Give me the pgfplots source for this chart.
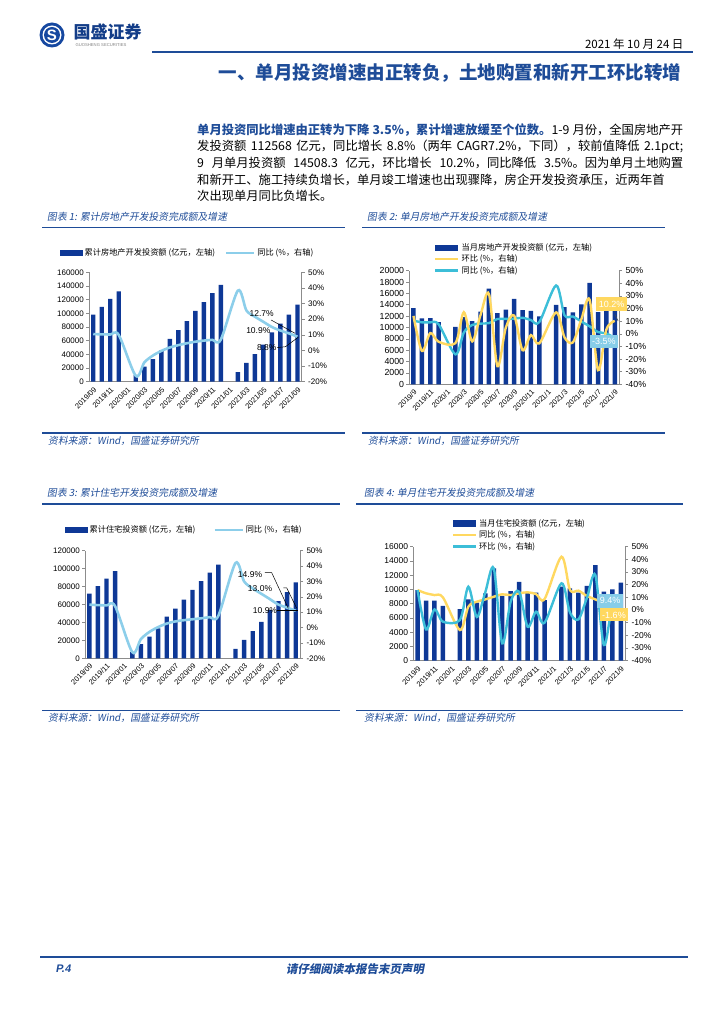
\documentclass[border=0pt]{standalone}
\usepackage{fontspec}
\usepackage{pgfplots}
\pgfplotsset{compat=1.18}
\setmainfont{Noto Sans CJK SC}
\newfontfamily\cjkit{Noto Sans CJK SC}[FakeSlant=0.18]
\newfontfamily\lsans{Liberation Sans}
\newfontfamily\lsansit{Liberation Sans}[FakeSlant=0.18]
\XeTeXlinebreaklocale "zh"
\XeTeXlinebreakskip=0pt plus 1pt
\definecolor{hdrblue}{RGB}{30,76,152}
\definecolor{barblue}{RGB}{14,56,150}
\definecolor{lblue}{RGB}{140,206,234}
\definecolor{cyanl}{RGB}{60,190,216}
\definecolor{yell}{RGB}{255,216,96}
\definecolor{boxblue}{RGB}{135,205,232}
\definecolor{axgray}{RGB}{140,140,140}
\definecolor{logoblue}{RGB}{22,72,160}
\pgfplotsset{
  common/.style={scale only axis, clip=false, xmin=-0.5, xmax=24.5,
    axis line style={axgray, line width=0.6pt}, tick style={axgray, line width=0.6pt},
    tick align=outside, major tick length=3pt,
    ticklabel style={font=\lsans\fontsize{8}{9}\selectfont, text=black},
    scaled y ticks=false, /pgf/number format/assume math mode=true},
  leftax/.style={common, axis x line*=bottom, axis y line*=left,
    xtick={0,2,...,24}, xtick style={draw=none},
    xticklabel style={rotate=45, anchor=north east, inner sep=1pt, font=\lsans\fontsize{7.4}{8}\selectfont},
    yticklabel style={inner sep=2pt}},
  rightax/.style={common, axis x line=none, axis y line*=right, xtick=\empty},
  lg/.style={legend cell align=left, legend style={draw=none, fill=none, inner sep=0pt, font=\fontsize{8.2}{9}\selectfont,
     /tikz/every even column/.append style={column sep=8pt}}},
  barsw/.style={legend image code/.code={\fill[barblue] (0pt,-2.6pt) rectangle (22pt,2.6pt);}},
  linesw/.style={legend image code/.code={\draw[#1, line width=2.4pt] (0pt,0pt) -- (28pt,0pt);}},
  monthA/.style={xticklabels={2019/09,2019/11,2020/01,2020/03,2020/05,2020/07,2020/09,2020/11,2021/01,2021/03,2021/05,2021/07,2021/09}},
  monthB/.style={xticklabels={2019/9,2019/11,2020/1,2020/3,2020/5,2020/7,2020/9,2020/11,2021/1,2021/3,2021/5,2021/7,2021/9}},
}
\begin{document}
\begin{tikzpicture}
\path[use as bounding box] (0,0) rectangle (724pt,-1024pt);
\begin{scope}[x=1pt,y=-1pt]
% header
\fill[logoblue] (52,35) circle (12.5);
\fill[white] (52,35) circle (9.5);
\fill[logoblue] (52,35) circle (8);
\node[text=white, font=\lsans\bfseries\fontsize{15}{15}\selectfont] at (52,35.5) {S};
\node[anchor=west, text=logoblue!85!black, font=\bfseries\fontsize{17}{17}\selectfont] at (70,32) {国盛证券};
\node[anchor=west, text=gray, font=\lsans\fontsize{4.2}{5}\selectfont] at (72,45.5) {GUOSHENG SECURITIES};
\node[anchor=east, font=\fontsize{11.5}{12}\selectfont] at (687,44) {2021 年 10 月 24 日};
\draw[hdrblue, line width=2pt] (152,52.5) -- (693,52.5);
\node[anchor=east, text=hdrblue, font=\bfseries\fontsize{18.5}{19}\selectfont] at (685,73) {一、单月投资增速由正转负，土地购置和新开工环比转增};
% paragraph
\begin{scope}[every node/.style={anchor=west, inner sep=0pt, font=\fontsize{12.3}{13}\selectfont}]
\node at (197,130) {\makebox[486pt][s]{{\bfseries\color{hdrblue}单月投资同比增速由正转为下降 3.5\%，累计增速放缓至个位数。}1-9 月份，全国房地产开}};
\node at (197,146.5) {\makebox[486pt][s]{发投资额 112568 亿元，同比增长 8.8\%（两年 CAGR7.2\%，下同），较前值降低 2.1pct;}};
\node at (197,163) {\makebox[486pt][s]{9 月单月投资额 14508.3 亿元，环比增长 10.2\%，同比降低 3.5\%。因为单月土地购置}};
\node at (197,179.5) {\makebox[486pt][s]{和新开工、施工持续负增长，单月竣工增速也出现骤降，房企开发投资承压，近两年首}};
\node at (197,196) {次出现单月同比负增长。};
\end{scope}
% captions and rules
\begin{scope}[every node/.style={anchor=west, inner sep=0pt, text=hdrblue, font=\cjkit\fontsize{9.8}{10}\selectfont}]
\node at (47,217) {图表 1: 累计房地产开发投资完成额及增速};
\node at (367,217) {图表 2: 单月房地产开发投资完成额及增速};
\node at (47,493) {图表 3: 累计住宅开发投资完成额及增速};
\node at (364,493) {图表 4: 单月住宅开发投资完成额及增速};
\node at (48,441) {资料来源：Wind，国盛证券研究所};
\node at (368,441) {资料来源：Wind，国盛证券研究所};
\node at (48,718) {资料来源：Wind，国盛证券研究所};
\node at (364,718) {资料来源：Wind，国盛证券研究所};
\end{scope}
\begin{scope}[hdrblue, line width=1.6pt]
\draw (42,227.5) -- (345,227.5); \draw (362,227.5) -- (665,227.5);
\draw (42,433) -- (345,433); \draw (362,433) -- (665,433);
\draw (42,504) -- (340,504); \draw (356,504) -- (683,504);
\draw (42,710.5) -- (340,710.5); \draw (356,710.5) -- (683,710.5);
\end{scope}
% footer
\draw[hdrblue, line width=2pt] (40,957) -- (688,957);
\node[anchor=west, text=hdrblue, font=\lsansit\bfseries\fontsize{11}{12}\selectfont] at (52,969) {P.4};
\node[text=hdrblue, font=\cjkit\bfseries\fontsize{11.5}{12}\selectfont] at (355,969) {请仔细阅读本报告末页声明};
\end{scope}

% ---------------- Chart 1 ----------------
\begin{axis}[leftax, monthA, lg, at={(89pt,-381.7pt)}, anchor=south west, width=212.7pt, height=109.4pt,
  ymin=0, ymax=160000, ytick={0,20000,40000,60000,80000,100000,120000,140000,160000},
  yticklabels={0,20000,40000,60000,80000,100000,120000,140000,160000},
  legend style={at={(-0.136,1.176)}, anchor=west}, legend columns=-1]
\addplot[ybar, bar width=4.4pt, fill=barblue, draw=none, forget plot] coordinates {
(0,98008)(1,109603)(2,121265)(3,132194)(5,10115)(6,21963)(7,33103)(8,45920)(9,62780)(10,75325)(11,88454)(12,103484)(13,116556)(14,129492)(15,141443)(17,13986)(18,27576)(19,40240)(20,54318)(21,72179)(22,84895)(23,98061)(24,112568)};
\addlegendimage{barsw}\addlegendentry{累计房地产开发投资额 (亿元，左轴)}
\addlegendimage{linesw=lblue}\addlegendentry{同比 (\%，右轴)}
\end{axis}
\begin{axis}[rightax, at={(89pt,-381.7pt)}, anchor=south west, width=212.7pt, height=109.4pt,
  ymin=-20, ymax=50, ytick={-20,-10,0,10,20,30,40,50},
  yticklabels={-20\%,-10\%,0\%,10\%,20\%,30\%,40\%,50\%}]
\addplot[lblue, line width=2.6pt, smooth, tension=0.5] coordinates {
(0,10.5)(1,10.3)(2,10.2)(3,9.9)(5,-16.3)(6,-7.7)(7,-3.3)(8,-0.3)(9,1.9)(10,3.4)(11,4.6)(12,5.6)(13,6.3)(14,6.8)(15,7.0)(17,38.3)(18,25.6)(19,21.6)(20,18.3)(21,15.0)(22,12.7)(23,10.9)(24,8.8)};
\draw[black, line width=0.5pt] (axis cs:20.9,19.5) -- (axis cs:23.7,11.0);
\draw[black, line width=0.5pt] (axis cs:21.6,1.8) -- (axis cs:22.6,2.4) -- (axis cs:24.1,8.5);
\node[font=\lsans\fontsize{8.5}{9}\selectfont, inner sep=0pt] at (axis cs:19.8,23.5) {12.7\%};
\node[font=\lsans\fontsize{8.5}{9}\selectfont, inner sep=0pt] at (axis cs:19.4,12.4) {10.9\%};
\node[font=\lsans\fontsize{8.5}{9}\selectfont, inner sep=0pt] at (axis cs:20.4,1.8) {8.8\%};
\end{axis}

% ---------------- Chart 2 ----------------
\begin{axis}[leftax, monthB, lg, at={(409.3pt,-384.3pt)}, anchor=south west, width=209.7pt, height=113.6pt,
  ticklabel style={font=\lsans\fontsize{8.8}{9}\selectfont},
  ymin=0, ymax=20000, ytick={0,2000,4000,6000,8000,10000,12000,14000,16000,18000,20000},
  yticklabels={0,2000,4000,6000,8000,10000,12000,14000,16000,18000,20000},
  legend style={at={(0.118,1.262)}, anchor=north west, row sep=-0.8pt,
    /tikz/every even column/.append style={column sep=0pt}}, legend columns=1]
\addplot[ybar, bar width=4.5pt, fill=barblue, draw=none, forget plot] coordinates {
(0,13419)(1,11595)(2,11662)(3,10929)(5,10115)(6,11848)(7,11140)(8,12817)(9,16860)(10,12545)(11,13129)(12,15030)(13,13072)(14,12936)(15,11951)(17,13986)(18,13590)(19,12664)(20,14078)(21,17861)(22,12716)(23,13166)(24,14508.3)};
\addlegendimage{barsw}\addlegendentry{当月房地产开发投资额 (亿元，左轴)}
\addlegendimage{legend image code/.code={\draw[yell, line width=2.4pt] (0pt,0pt) -- (23pt,0pt);}}\addlegendentry{环比 (\%，右轴)}
\addlegendimage{legend image code/.code={\draw[cyanl, line width=2.4pt] (0pt,0pt) -- (23pt,0pt);}}\addlegendentry{同比 (\%，右轴)}
\end{axis}
\begin{axis}[rightax, at={(409.3pt,-384.3pt)}, anchor=south west, width=209.7pt, height=113.6pt,
  ticklabel style={font=\lsans\fontsize{8.8}{9}\selectfont},
  ymin=-40, ymax=50, ytick={-40,-30,-20,-10,0,10,20,30,40,50},
  yticklabels={-40\%,-30\%,-20\%,-10\%,0\%,10\%,20\%,30\%,40\%,50\%}]
\addplot[cyanl, line width=2.4pt, smooth, tension=0.5] coordinates {
(0,10.5)(1,9.1)(2,9.1)(3,7.5)(5,-16.3)(6,1.0)(7,7.0)(8,8.1)(9,8.5)(10,11.7)(11,11.8)(12,12.0)(13,12.7)(14,10.9)(15,9.3)(17,38.3)(18,14.7)(19,13.7)(20,9.8)(21,5.9)(22,1.4)(23,0.3)(24,-3.5)};
\addplot[yell, line width=2.4pt, smooth, tension=0.5] coordinates {
(0,14.2)(1,-13.6)(2,0.6)(3,-6.3)(5,-7.4)(6,17.1)(7,-6.0)(8,15.1)(9,31.5)(10,-25.6)(11,4.7)(12,14.5)(13,-13.0)(14,-1.0)(15,-7.6)(17,17.0)(18,-2.8)(19,-6.8)(20,11.2)(21,26.9)(22,-28.8)(23,3.5)(24,10.2)};
\draw[black!70, line width=0.6pt] (axis cs:24.0,15.4) -- (axis cs:24.4,10.1);
\node[fill=yell, text=white, font=\lsans\fontsize{9}{10}\selectfont, inner sep=2.5pt, minimum height=14pt] at (axis cs:23.63,23.5) {10.2\%};
\node[fill=boxblue, text=white, font=\lsans\fontsize{9}{10}\selectfont, inner sep=2.5pt, minimum height=13pt] at (axis cs:22.7,-6.1) {-3.5\%};
\end{axis}

% ---------------- Chart 3 ----------------
\begin{axis}[leftax, monthA, lg, at={(85pt,-658.3pt)}, anchor=south west, width=215pt, height=107.6pt,
  ymin=0, ymax=120000, ytick={0,20000,40000,60000,80000,100000,120000},
  yticklabels={0,20000,40000,60000,80000,100000,120000},
  legend style={at={(-0.093,1.192)}, anchor=west, /tikz/every even column/.append style={column sep=16pt}}, legend columns=-1]
\addplot[ybar, bar width=4.4pt, fill=barblue, draw=none, forget plot] coordinates {
(0,72100)(1,80500)(2,89000)(3,97100)(5,7300)(6,15800)(7,24300)(8,33400)(9,46350)(10,55400)(11,65450)(12,76300)(13,86000)(14,95600)(15,104400)(17,10400)(18,20600)(19,30200)(20,40600)(21,53800)(22,63800)(23,73700)(24,84700)};
\addlegendimage{barsw}\addlegendentry{累计住宅投资额 (亿元，左轴)}
\addlegendimage{linesw=lblue}\addlegendentry{同比 (\%，右轴)}
\end{axis}
\begin{axis}[rightax, at={(85pt,-658.3pt)}, anchor=south west, width=215pt, height=107.6pt,
  ymin=-20, ymax=50, ytick={-20,-10,0,10,20,30,40,50},
  yticklabels={-20\%,-10\%,0\%,10\%,20\%,30\%,40\%,50\%}]
\addplot[lblue, line width=2.6pt, smooth, tension=0.5] coordinates {
(0,14.9)(1,14.6)(2,14.4)(3,13.9)(5,-16.0)(6,-7.5)(7,-2.8)(8,0.3)(9,2.6)(10,4.0)(11,4.8)(12,5.4)(13,6.0)(14,6.8)(15,7.6)(17,42.0)(18,30.0)(19,25.5)(20,22.0)(21,18.5)(22,14.9)(23,13.0)(24,10.9)};
\draw[black, line width=0.5pt] (axis cs:20.43,35.7) -- (axis cs:21.21,35.7) -- (axis cs:23.14,12.5);
\draw[black, line width=0.5pt] (axis cs:22.56,25.9) -- (axis cs:22.95,25.9) -- (axis cs:24.12,12.5);
\draw[black, line width=0.5pt] (axis cs:21.79,11.4) -- (axis cs:24.3,11.4);
\node[font=\lsans\fontsize{8.5}{9}\selectfont, inner sep=0pt] at (axis cs:18.69,34.8) {14.9\%};
\node[font=\lsans\fontsize{8.5}{9}\selectfont, inner sep=0pt] at (axis cs:19.85,25.5) {13.0\%};
\node[font=\lsans\fontsize{8.5}{9}\selectfont, inner sep=0pt] at (axis cs:20.43,11.0) {10.9\%};
\end{axis}

% ---------------- Chart 4 ----------------
\begin{axis}[leftax, monthB, lg, at={(413.3pt,-660.7pt)}, anchor=south west, width=211.7pt, height=114pt,
  ticklabel style={font=\lsans\fontsize{8.5}{9}\selectfont},
  ymin=0, ymax=16000, ytick={0,2000,4000,6000,8000,10000,12000,14000,16000},
  yticklabels={0,2000,4000,6000,8000,10000,12000,14000,16000},
  legend style={at={(0.181,1.262)}, anchor=north west, row sep=-0.8pt,
    /tikz/every even column/.append style={column sep=0pt}}, legend columns=1]
\addplot[ybar, bar width=4.5pt, fill=barblue, draw=none, forget plot] coordinates {
(0,9900)(1,8450)(2,8450)(3,7700)(5,7250)(6,8600)(7,8150)(8,9450)(9,12950)(10,9100)(11,9750)(12,11050)(13,9600)(14,9550)(15,8500)(17,10400)(18,10150)(19,9550)(20,10500)(21,13400)(22,9700)(23,10000)(24,10950)};
\addlegendimage{barsw}\addlegendentry{当月住宅投资额 (亿元，左轴)}
\addlegendimage{legend image code/.code={\draw[yell, line width=2.4pt] (0pt,0pt) -- (23pt,0pt);}}\addlegendentry{同比 (\%，右轴)}
\addlegendimage{legend image code/.code={\draw[cyanl, line width=2.4pt] (0pt,0pt) -- (23pt,0pt);}}\addlegendentry{环比 (\%，右轴)}
\end{axis}
\begin{axis}[rightax, at={(413.3pt,-660.7pt)}, anchor=south west, width=211.7pt, height=114pt,
  ticklabel style={font=\lsans\fontsize{8.5}{9}\selectfont},
  ymin=-40, ymax=50, ytick={-40,-30,-20,-10,0,10,20,30,40,50},
  yticklabels={-40\%,-30\%,-20\%,-10\%,0\%,10\%,20\%,30\%,40\%,50\%}]
\addplot[yell, line width=2.4pt, smooth, tension=0.5] coordinates {
(0,15.8)(1,13.2)(2,11.8)(3,10.0)(5,-15.8)(6,2.6)(7,6.6)(8,8.4)(9,10.5)(10,12.4)(11,11.8)(12,13.2)(13,14.0)(14,12.6)(15,8.7)(17,42.1)(18,15.8)(19,15.3)(20,11.1)(21,8.4)(22,5.5)(23,3.0)(24,-1.6)};
\addplot[cyanl, line width=2.4pt, smooth, tension=0.5] coordinates {
(0,15.8)(1,-15.3)(2,0.5)(3,-9.2)(5,-7.9)(6,18.4)(7,-5.5)(8,14.0)(9,32.9)(10,-26.3)(11,6.6)(12,14.5)(13,-13.2)(14,-1.3)(15,-10.0)(17,21.1)(18,-2.0)(19,-7.4)(20,9.6)(21,27.6)(22,-27.6)(23,3.1)(24,9.4)};
\node[fill=boxblue, text=white, font=\lsans\fontsize{9}{10}\selectfont, inner sep=2.5pt, minimum height=14pt] at (axis cs:22.73,7.5) {9.4\%};
\node[fill=yell, text=white, font=\lsans\fontsize{9}{10}\selectfont, inner sep=2.5pt, minimum height=13pt] at (axis cs:23.2,-3.9) {-1.6\%};
\end{axis}
\end{tikzpicture}
\end{document}
